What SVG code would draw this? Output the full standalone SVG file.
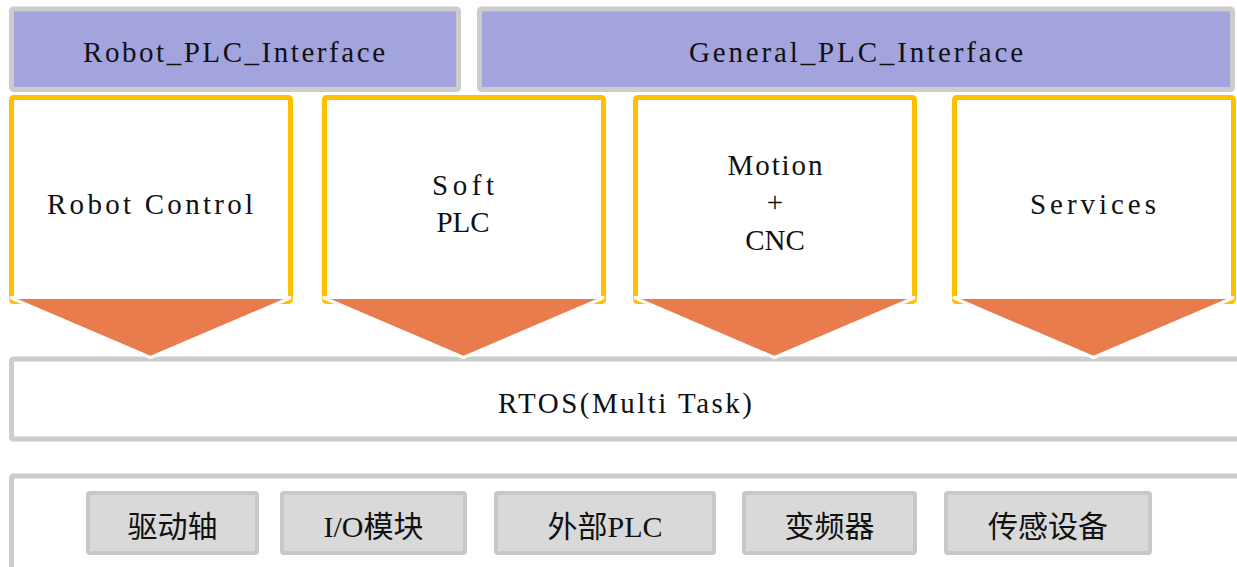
<svg xmlns="http://www.w3.org/2000/svg" width="1237" height="567" viewBox="0 0 1237 567">
<style>
.iface{fill:#A3A3DE;stroke:#CCCCCC;stroke-width:5}
.mod{fill:#FFFFFF;stroke:#FFC000;stroke-width:5}
.arrow{fill:#E97C4D;stroke:#FFFFFF;stroke-width:3;stroke-linejoin:miter}
.layer{fill:#FFFFFF;stroke:#CCCCCC;stroke-width:5}
.dev{fill:#D9D9D9;stroke:#C8C8C8;stroke-width:4}
.t{font-family:"Liberation Serif","Noto Sans CJK SC",serif;font-size:29px;fill:#111111;text-anchor:middle}
.c{font-family:"Liberation Serif","Noto Sans CJK SC",sans-serif;font-size:30px;fill:#111111;text-anchor:middle}
</style>
<rect width="1237" height="567" fill="#FFFFFF"/>
<g id="robot_plc_interface">
<rect class="iface" x="11.5" y="9" width="447" height="80.5" rx="2"/>
<text class="t" x="234" y="62" textLength="302" lengthAdjust="spacing">Robot_PLC_Interface</text>
</g>
<g id="general_plc_interface">
<rect class="iface" x="479.5" y="9" width="753" height="80.5" rx="2"/>
<text class="t" x="856" y="62" textLength="334" lengthAdjust="spacing">General_PLC_Interface</text>
</g>
<g id="rtos">
<rect class="layer" x="11.5" y="359" width="1240" height="80" rx="2"/>
<text class="t" x="625" y="413" textLength="254" lengthAdjust="spacing">RTOS(Multi Task)</text>
</g>
<g id="robot_control">
<rect class="mod" x="11.5" y="97.5" width="279" height="204" rx="2"/>
<text class="t" x="150" y="214" textLength="206" lengthAdjust="spacing">Robot Control</text>
</g>
<g id="soft_plc">
<rect class="mod" x="324.5" y="97.5" width="279" height="204" rx="2"/>
<text class="t" x="463" y="195" textLength="62" lengthAdjust="spacing">Soft</text>
<text class="t" x="463" y="232">PLC</text>
</g>
<g id="motion_cnc">
<rect class="mod" x="635.5" y="97.5" width="279" height="204" rx="2"/>
<text class="t" x="775" y="175" textLength="95" lengthAdjust="spacing">Motion</text>
<text class="t" x="775" y="212">+</text>
<text class="t" x="775" y="250">CNC</text>
</g>
<g id="services">
<rect class="mod" x="954.5" y="97.5" width="279" height="204" rx="2"/>
<text class="t" x="1093" y="214" textLength="126" lengthAdjust="spacing">Services</text>
</g>
<g id="connectors">
<polygon class="arrow" points="10,297.5 291,297.5 150.5,357.5"/>
<polygon class="arrow" points="323,297.5 604,297.5 463.5,357.5"/>
<polygon class="arrow" points="634,297.5 915,297.5 774.5,357.5"/>
<polygon class="arrow" points="953,297.5 1234,297.5 1093.5,357.5"/>
</g>
<g id="devices">
<rect class="layer" x="11.5" y="476" width="1240" height="95" rx="2"/>
</g>
<g id="drive_axis">
<rect class="dev" x="88" y="493" width="169" height="60" rx="2"/>
<text class="c" x="172.5" y="537">驱动轴</text>
</g>
<g id="io_module">
<rect class="dev" x="282" y="493" width="183" height="60" rx="2"/>
<text class="c" x="373.5" y="537">I/O模块</text>
</g>
<g id="external_plc">
<rect class="dev" x="496" y="493" width="218" height="60" rx="2"/>
<text class="c" x="605" y="537">外部PLC</text>
</g>
<g id="inverter">
<rect class="dev" x="744" y="493" width="171" height="60" rx="2"/>
<text class="c" x="829.5" y="537">变频器</text>
</g>
<g id="sensors">
<rect class="dev" x="946" y="493" width="204" height="60" rx="2"/>
<text class="c" x="1048" y="537">传感设备</text>
</g>
</svg>
